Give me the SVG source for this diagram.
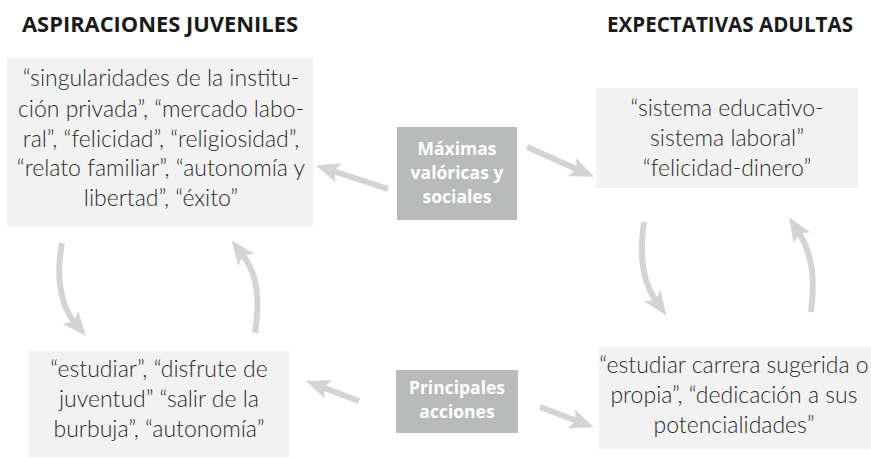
<svg xmlns="http://www.w3.org/2000/svg" width="871" height="458" viewBox="0 0 871 458">
<style>
.title{font-family:"Open Sans","Liberation Sans",sans-serif;font-weight:700;font-size:20.5px;fill:#1a1a1a}
.box{fill:#f2f2f2}
.dbox{fill:#b9baba}
.t{font-family:Lato,"Open Sans","Liberation Sans",sans-serif;font-weight:300;font-size:23px;fill:#2b2b2b;text-anchor:middle}
.dt{font-family:"Open Sans","Liberation Sans",sans-serif;font-weight:700;font-size:17.5px;fill:#ffffff;text-anchor:middle}
.arr{fill:none;stroke:#d3d4d4;stroke-width:6;marker-end:url(#ah)}
</style>
<defs>
<marker id="ah" viewBox="0 0 24 20" refX="6" refY="10" markerWidth="24" markerHeight="20" markerUnits="userSpaceOnUse" orient="auto">
<path d="M0,0 L24,10 L0,20 L5,10 z" fill="#d3d4d4"/>
</marker>
</defs>
<text class="title" x="22" y="32" textLength="276" lengthAdjust="spacingAndGlyphs">ASPIRACIONES JUVENILES</text>
<text class="title" x="607" y="32" textLength="246" lengthAdjust="spacingAndGlyphs">EXPECTATIVAS ADULTAS</text>
<g id="aspiraciones">
<rect class="box" x="7" y="58" width="306" height="168"/>
<text class="t" x="161" y="86">“singularidades de la institu-</text>
<text class="t" x="161" y="117">ción privada”, “mercado labo-</text>
<text class="t" x="161" y="147">ral”, “felicidad”, “religiosidad”,</text>
<text class="t" x="161" y="176">“relato familiar”, “autonomía y</text>
<text class="t" x="161" y="206">libertad”, “éxito”</text>
</g>
<g id="expectativas">
<rect class="box" x="596" y="88" width="262" height="100"/>
<text class="t" x="727" y="116">“sistema educativo-</text>
<text class="t" x="727" y="146">sistema laboral”</text>
<text class="t" x="727" y="176">“felicidad-dinero”</text>
</g>
<g id="maximas">
<rect class="dbox" x="397" y="127" width="120" height="93"/>
<text class="dt" x="457" y="155">Máximas</text>
<text class="dt" x="457" y="179">valóricas y</text>
<text class="dt" x="457" y="203">sociales</text>
</g>
<g id="acciones-juveniles">
<rect class="box" x="29" y="351" width="260" height="106"/>
<text class="t" x="159" y="377">“estudiar”, “disfrute de</text>
<text class="t" x="159" y="407">juventud” “salir de la</text>
<text class="t" x="159" y="437">burbuja”, “autonomía”</text>
</g>
<g id="acciones-adultas">
<rect class="box" x="599" y="347" width="272" height="102"/>
<text class="t" x="734" y="373">“estudiar carrera sugerida o</text>
<text class="t" x="734" y="403">propia”, “dedicación a sus</text>
<text class="t" x="734" y="433">potencialidades”</text>
</g>
<g id="principales">
<rect class="dbox" x="396" y="370" width="122" height="63"/>
<text class="dt" x="457" y="394">Principales</text>
<text class="dt" x="457" y="418">acciones</text>
</g>
<g id="connectors">
<path class="arr" d="M388,189 L333,171"/>
<path class="arr" d="M527,147 L577.6,169.5"/>
<path class="arr" d="M359,401 L322.8,387.4"/>
<path class="arr" d="M540,407 L577,421"/>
<path class="arr" d="M62,243 C56,275 60,305 74.4,322.2"/>
<path class="arr" d="M255,333 C260,300 258,275 242.6,254.8"/>
<path class="arr" d="M644,222 C639,255 643,282 656,300.7"/>
<path class="arr" d="M811,312 C815,280 813,255 798.8,232.6"/>
</g>
</svg>
